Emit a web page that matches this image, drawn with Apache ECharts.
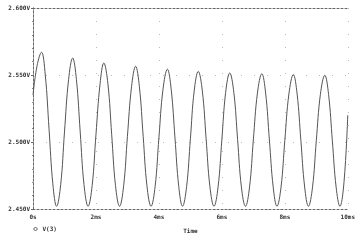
<!DOCTYPE html>
<html><head><meta charset="utf-8">
<script src="https://cdn.jsdelivr.net/npm/echarts@6/dist/echarts.min.js"></script>
<style>html,body{margin:0;padding:0;background:#fff}#c{width:358px;height:240px}</style>
</head><body><div id="c"></div>
<script>
// time in ms
var times = [0, 0.13, 0.27, 0.39, 0.51, 0.63, 0.75,
  0.88, 1.0, 1.13, 1.26, 1.38, 1.50, 1.62, 1.75,
  1.88, 2.0, 2.13, 2.25, 2.38, 2.50, 2.62, 2.75,
  2.88, 3.0, 3.13, 3.26, 3.38, 3.50, 3.62, 3.75,
  3.88, 4.0, 4.13, 4.27, 4.39, 4.51, 4.63, 4.75,
  4.88, 5.0, 5.12, 5.25, 5.38, 5.50, 5.62, 5.75,
  5.88, 6.0, 6.12, 6.25, 6.38, 6.50, 6.62, 6.75,
  6.88, 7.0, 7.13, 7.27, 7.39, 7.51, 7.63, 7.75,
  7.88, 8.0, 8.13, 8.27, 8.39, 8.51, 8.63, 8.75,
  8.88, 9.0, 9.13, 9.27, 9.39, 9.51, 9.63, 9.75,
  9.88, 10.0];
// V(3) in volts
var v3 = [2.535, 2.557, 2.567, 2.550, 2.5095, 2.4688, 2.452,
  2.4682, 2.5074, 2.5465, 2.5627, 2.5465, 2.5074, 2.4682, 2.452,
  2.4676, 2.5055, 2.5434, 2.559, 2.5434, 2.5055, 2.4676, 2.452,
  2.4673, 2.5043, 2.5412, 2.5565, 2.5412, 2.5043, 2.4673, 2.452,
  2.4669, 2.5032, 2.5394, 2.5543, 2.5394, 2.5032, 2.4669, 2.452,
  2.4667, 2.5024, 2.5380, 2.5527, 2.5380, 2.5024, 2.4667, 2.452,
  2.4665, 2.5018, 2.5370, 2.5515, 2.5370, 2.5018, 2.4665, 2.452,
  2.4665, 2.5015, 2.5365, 2.551, 2.5365, 2.5015, 2.4665, 2.452,
  2.4664, 2.5012, 2.5359, 2.5503, 2.5359, 2.5012, 2.4664, 2.452,
  2.4663, 2.5009, 2.5355, 2.5498, 2.5355, 2.5009, 2.4663, 2.452,
  2.470, 2.520];
var xTickLabels = ['0s', '2ms', '4ms', '6ms', '8ms', '10ms'];
var yTickLabels = ['2.450V', '2.500V', '2.550V', '2.600V'];
var seriesName = 'V(3)';

var pts = times.map(function (t, i) { return [t, v3[i]]; });
var font = {fontFamily: 'DejaVu Sans Mono', fontSize: 6, fontWeight: 'bold', color: '#333'};
var dotted = {color: '#666', width: 1, type: [2, 2]};
var chart = echarts.init(document.getElementById('c'), null, {renderer: 'canvas'});
chart.setOption({
  animation: false,
  backgroundColor: '#fff',
  grid: {left: 33, right: 3, top: 8, bottom: 31},
  legend: {
    data: [{name: seriesName, icon: 'diamond', itemStyle: {color: '#fff', borderColor: '#555', borderWidth: 1}}],
    left: 33, top: 226, itemWidth: 4, itemHeight: 4, itemGap: 2,
    textStyle: font, padding: 0
  },
  xAxis: [{
    type: 'value', min: 0, max: 10, interval: 2,
    name: 'Time', nameLocation: 'middle', nameGap: 19,
    nameTextStyle: font,
    axisLine: {lineStyle: dotted},
    axisTick: {show: false},
    axisLabel: Object.assign({margin: 5, formatter: function (v) { return xTickLabels[Math.round(v / 2)]; }}, font),
    splitLine: {show: true, lineStyle: {color: '#bbb', type: [1, 12]}}
  }, {
    type: 'value', min: 0, max: 10, position: 'top',
    axisLine: {show: true, lineStyle: dotted}, axisTick: {show: false},
    axisLabel: {show: false}, splitLine: {show: false}
  }],
  yAxis: [{
    type: 'value', min: 2.45, max: 2.6, interval: 0.05,
    axisLine: {show: true, lineStyle: dotted},
    axisTick: {show: true, length: 2, lineStyle: {color: '#666'}},
    minorTick: {show: true, splitNumber: 5, length: 1, lineStyle: {color: '#888'}},
    axisLabel: Object.assign({margin: 3, formatter: function (v) { return yTickLabels[Math.round((v - 2.45) / 0.05)]; }}, font),
    splitLine: {show: true, lineStyle: {color: '#bbb', type: [1, 12]}}
  }, {
    type: 'value', min: 2.45, max: 2.6, position: 'right',
    axisLine: {show: true, lineStyle: dotted}, axisTick: {show: false},
    axisLabel: {show: false}, splitLine: {show: false}
  }],
  series: [{
    name: seriesName, type: 'line', data: pts, smooth: 0.4,
    showSymbol: false,
    lineStyle: {color: '#555', width: 1},
    itemStyle: {color: '#555'}
  }]
});
</script></body></html>
